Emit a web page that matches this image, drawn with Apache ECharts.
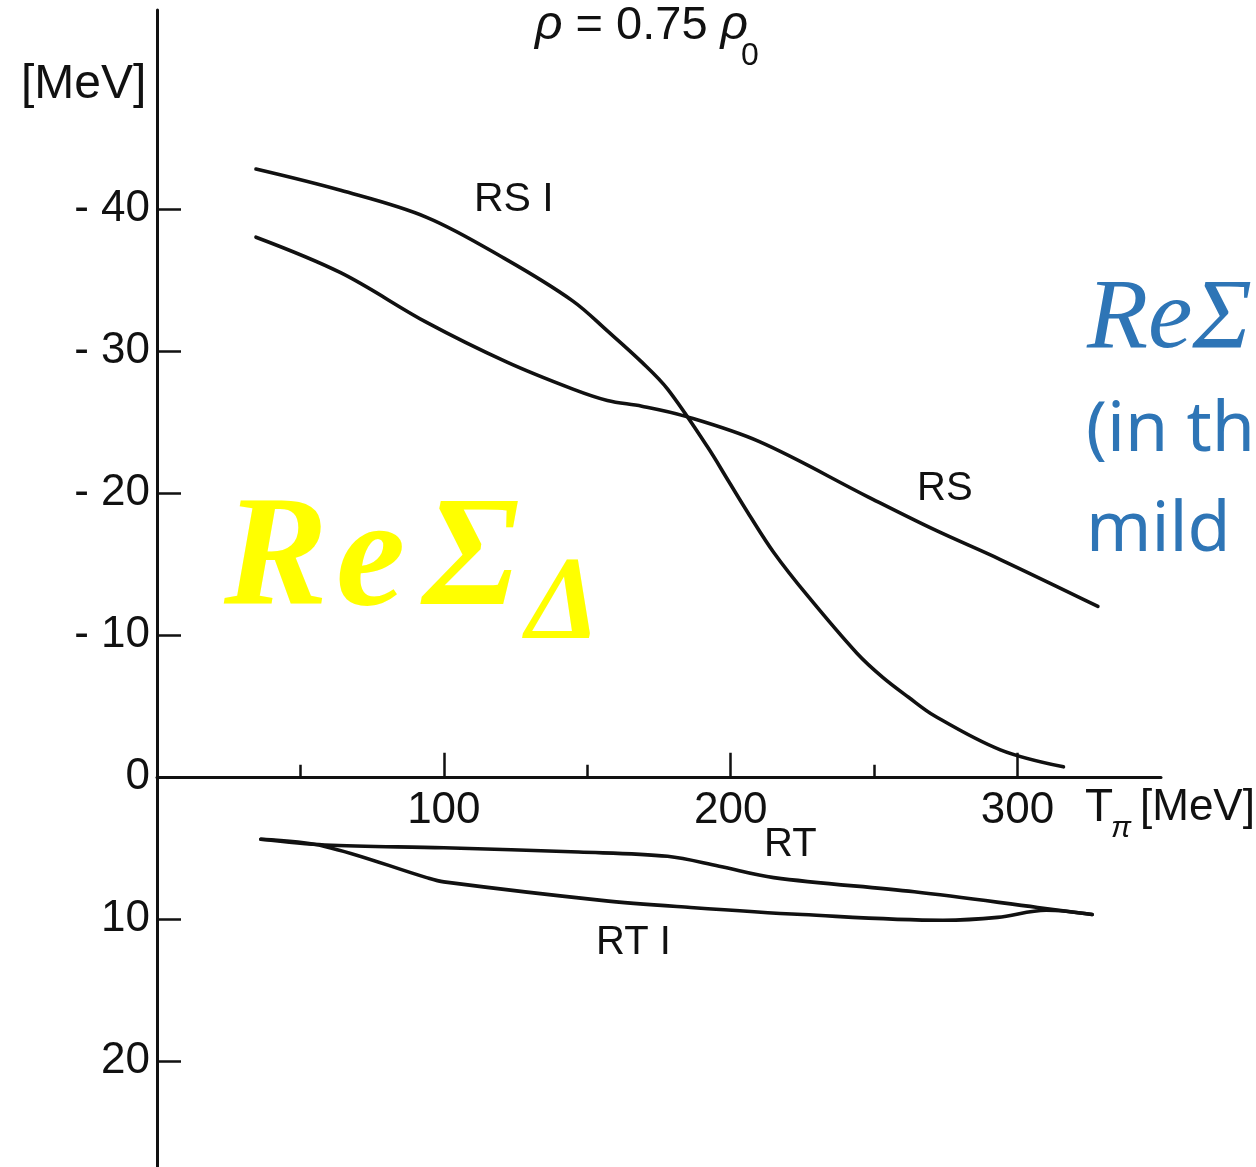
<!DOCTYPE html>
<html>
<head>
<meta charset="utf-8">
<script src="https://cdn.jsdelivr.net/npm/echarts@6/dist/echarts.min.js"></script>
<style>
  html, body { margin: 0; padding: 0; background: #ffffff; }
  #chart { width: 1256px; height: 1167px; }
</style>
</head>
<body>
<div id="chart"></div>
<script>
// Real part of the Delta self-energy [MeV] versus pion kinetic energy T_pi [MeV]

// RS I
const rs1Energy = [34.5, 64, 94, 122, 145, 157, 169, 178, 192, 199, 206, 215, 227, 244, 253, 262, 271, 294, 316];
const rs1Value  = [-42.8, -41.3, -39.4, -36.4, -33.5, -31.4, -29.2, -27.3, -23.2, -20.9, -18.6, -15.8, -12.7, -8.7, -7.0, -5.6, -4.3, -1.9, -0.7];

// RS
const rsEnergy = [34.5, 64, 94, 122, 145, 157, 169, 184, 210, 248, 271, 294, 328];
const rsValue  = [-38.0, -35.5, -32.0, -29.2, -27.3, -26.5, -26.1, -25.4, -23.6, -19.7, -17.4, -15.3, -12.0];

// RT
const rtEnergy = [36.2, 58.5, 100, 147, 178, 196, 215, 264, 307, 326];
const rtValue  = [4.4, 4.8, 5.0, 5.3, 5.6, 6.3, 7.1, 8.1, 9.2, 9.7];

// RT I
const rt1Energy = [36.2, 58.5, 94, 100, 155, 186, 225, 274, 293, 310, 326];
const rt1Value  = [4.4, 4.9, 7.1, 7.4, 8.7, 9.2, 9.7, 10.1, 9.9, 9.4, 9.7];

// Axis ticks and labels
const yTickValues  = [-40, -30, -20, -10, 0, 10, 20];
const xLabelValues = [100, 200, 300];
const xMinorValues = [50, 150, 250];
const xRange = [0, 350];
const yRange = [-54, 28];

function pairs(xs, ys) { return xs.map((x, i) => [x, ys[i]]); }

const SANS = '"Liberation Sans", Arial, Helvetica, sans-serif';
const SERIF = '"Liberation Serif", "Times New Roman", serif';
const NOTE = '"Noto Sans", "Open Sans", sans-serif';
const INK = '#111111';
const BLUE = '#2E75B6';
const YELLOW = '#FFFF00';

// plot frame shared by the data grid and the grids carrying the T axis
const PLOT_LEFT = 157;
const PLOT_TOP = 10;
const PLOT_WIDTH = 1004;
const PX_PER_MEV_Y = 14.2;
const zeroLineY = PLOT_TOP + (0 - yRange[0]) * PX_PER_MEV_Y;

const chart = echarts.init(document.getElementById('chart'), null, { renderer: 'canvas' });

function curve(name, xs, ys) {
  return {
    name: name,
    type: 'line',
    xAxisIndex: 0,
    yAxisIndex: 0,
    data: pairs(xs, ys),
    smooth: 0.35,
    symbol: 'none',
    lineStyle: { color: INK, width: 3.6, cap: 'round', join: 'round' },
    silent: true,
    z: 3
  };
}

function txt(text, x, y, font, fill) {
  return {
    type: 'text',
    z: 10,
    silent: true,
    style: {
      text: text, x: x, y: y, font: font, fill: fill,
      align: 'left', textAlign: 'left',
      verticalAlign: 'middle', textVerticalAlign: 'middle'
    }
  };
}

function hiddenY(gridIndex) {
  return {
    type: 'value', gridIndex: gridIndex, min: 0, max: 1, show: false,
    axisLine: { show: false, onZero: false }, splitLine: { show: false }
  };
}

const option = {
  animation: false,
  backgroundColor: '#ffffff',
  grid: [
    // data grid
    { left: PLOT_LEFT, top: PLOT_TOP, width: PLOT_WIDTH, height: (yRange[1] - yRange[0]) * PX_PER_MEV_Y, containLabel: false, outerBoundsMode: 'none' },
    // grid whose bottom edge is the zero line: major ticks and labels of T
    { left: PLOT_LEFT, top: PLOT_TOP, width: PLOT_WIDTH, height: zeroLineY - PLOT_TOP, containLabel: false, outerBoundsMode: 'none' },
    // same frame: minor ticks of T
    { left: PLOT_LEFT, top: PLOT_TOP, width: PLOT_WIDTH, height: zeroLineY - PLOT_TOP, containLabel: false, outerBoundsMode: 'none' }
  ],
  xAxis: [
    {
      type: 'value', gridIndex: 0, min: xRange[0], max: xRange[1], show: false,
      axisLine: { show: false, onZero: false }, splitLine: { show: false }
    },
    {
      type: 'value', gridIndex: 1, position: 'bottom', min: xRange[0], max: xRange[1],
      axisLine: { show: true, onZero: false, lineStyle: { color: INK, width: 3 } },
      axisTick: { show: true, inside: true, length: 24, customValues: xLabelValues, lineStyle: { color: INK, width: 2.5 } },
      axisLabel: { show: true, customValues: xLabelValues, margin: 12, color: INK, fontFamily: SANS, fontSize: 44 },
      splitLine: { show: false }
    },
    {
      type: 'value', gridIndex: 2, position: 'bottom', min: xRange[0], max: xRange[1],
      axisLine: { show: false, onZero: false },
      axisTick: { show: true, inside: true, length: 12, customValues: xMinorValues, lineStyle: { color: INK, width: 2.5 } },
      axisLabel: { show: false },
      splitLine: { show: false }
    }
  ],
  yAxis: [
    {
      type: 'value', gridIndex: 0, inverse: true, min: yRange[0], max: yRange[1],
      axisLine: { show: true, onZero: false, lineStyle: { color: INK, width: 3 } },
      axisTick: { show: true, inside: true, length: 24, customValues: yTickValues, lineStyle: { color: INK, width: 2.5 } },
      axisLabel: {
        show: true, customValues: yTickValues, margin: 7, color: INK, fontFamily: SANS, fontSize: 44,
        formatter: function (v) { return v < 0 ? '- ' + Math.abs(v) : String(v); }
      },
      splitLine: { show: false }
    },
    hiddenY(1),
    hiddenY(2)
  ],
  series: [
    curve('RS I', rs1Energy, rs1Value),
    curve('RS', rsEnergy, rsValue),
    curve('RT', rtEnergy, rtValue),
    curve('RT I', rt1Energy, rt1Value)
  ],
  graphic: [
    // unit of the vertical axis
    txt('[MeV]', 21, 85, '48px ' + SANS, INK),
    // density
    {
      type: 'text', z: 10, silent: true,
      style: {
        text: '{g|ρ}{n| = 0.75 }{g|ρ}',
        x: 535, y: 26,
        align: 'left', textAlign: 'left',
        verticalAlign: 'middle', textVerticalAlign: 'middle',
        fill: INK,
        rich: {
          g: { fontFamily: SANS, fontSize: 48, fontStyle: 'italic', fill: INK },
          n: { fontFamily: SANS, fontSize: 47, fill: INK }
        }
      }
    },
    txt('0', 741, 56, '32px ' + SANS, INK),
    // curve names
    txt('RS I', 474, 200, '41px ' + SANS, INK),
    txt('RS', 917, 489, '40px ' + SANS, INK),
    txt('RT', 764, 845, '40px ' + SANS, INK),
    txt('RT I', 596, 943, '40px ' + SANS, INK),
    // horizontal axis name
    txt('T', 1085, 808, '46px ' + SANS, INK),
    txt('π', 1111, 829, 'italic 30px ' + SANS, INK),
    txt('[MeV]', 1140, 808, '44px ' + SANS, INK),
    // yellow symbol
    txt('R', 224, 564, 'italic bold 156px ' + SERIF, YELLOW),
    txt('e', 336, 564, 'italic bold 156px ' + SERIF, YELLOW),
    txt('Σ', 423, 564, 'italic bold 156px ' + SERIF, YELLOW),
    txt('Δ', 526, 608, 'italic bold 118px ' + SERIF, YELLOW),
    // blue note at the right edge
    txt('ReΣ', 1087, 321, 'italic 100px ' + SERIF, BLUE),
    txt('(in th', 1086, 431, '70px ' + NOTE, BLUE),
    txt('mild', 1086, 531, '70px ' + NOTE, BLUE)
  ]
};

chart.setOption(option);
</script>
</body>
</html>
